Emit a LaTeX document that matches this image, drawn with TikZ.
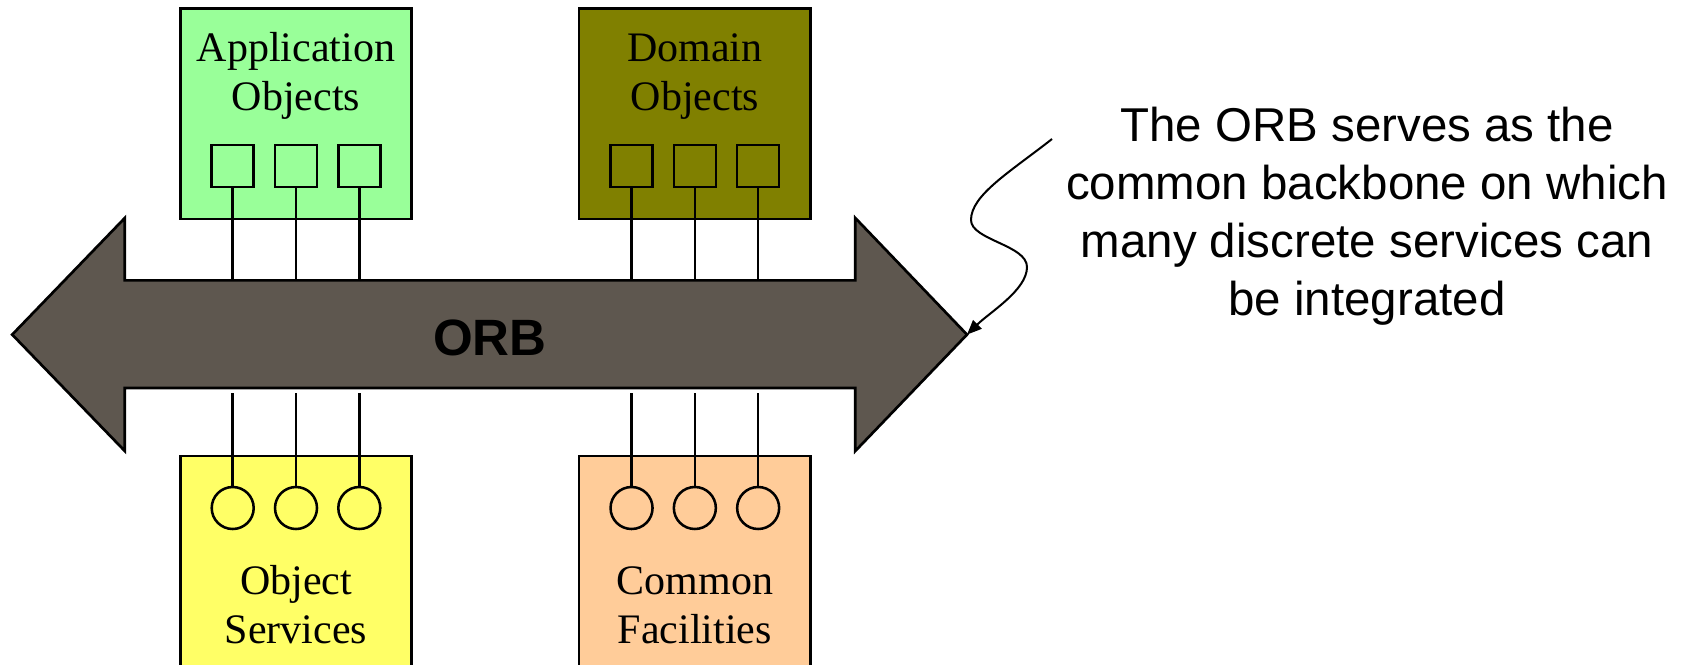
\documentclass[tikz,border=0pt]{standalone}
\usepackage{fontspec}
\setmainfont{Liberation Serif}
\newfontfamily\arialfont{Liberation Sans}
\usetikzlibrary{arrows.meta}
\definecolor{appgreen}{HTML}{99FF99}
\definecolor{domolive}{HTML}{808000}
\definecolor{svcyellow}{HTML}{FFFF66}
\definecolor{facpeach}{HTML}{FFCC99}
\definecolor{orbfill}{HTML}{5E574F}
\begin{document}
\begin{tikzpicture}[x=0.75pt,y=-0.75pt,
  box/.style={draw=black, line width=2pt, minimum width=173.6pt, inner sep=0pt},
  topbox/.style={box, minimum height=157.9pt},
  botbox/.style={box, minimum height=168pt},
  port/.style={draw=black, line width=1.9pt, minimum size=31.5pt, inner sep=0pt},
  sqport/.style={port, rectangle},
  ciport/.style={port, circle},
  wire/.style={line width=1.9pt},
  boxtext/.style={font=\fontsize{31.5pt}{36.4pt}\selectfont, align=center, inner sep=0pt, anchor=base},
]
\path[use as bounding box] (0,0) rectangle (1691,664);
\clip (0,0) rectangle (1691,664);

% boxes
\node[topbox, fill=appgreen] (app) at (296,113.75) {};
\node[topbox, fill=domolive] (dom) at (694.85,113.75) {};
\node[botbox, fill=svcyellow] (svc) at (296,568) {};
\node[botbox, fill=facpeach] (fac) at (694.85,568) {};

% box texts (anchor base = baseline of last line)
\node[boxtext] (apptext) at (296,110) {Application\\Objects};
\node[boxtext] (domtext) at (694.85,110) {Domain\\Objects};
\node[boxtext] (svctext) at (296,643) {Object\\Services};
\node[boxtext] (factext) at (694.85,643) {Common\\Facilities};

% ORB double arrow
\draw[line width=2pt, fill=orbfill]
  (12.2,334.6) coordinate (ltip) -- (124.8,218) -- (124.8,280.4)
  -- (855.3,280.4) -- (855.3,218) -- (967,334.6) coordinate (rtip)
  -- (855.3,451) -- (855.3,388) -- (124.8,388) -- (124.8,451) -- cycle;
\coordinate (shafttop) at (0,280.4);
\coordinate (shaftbot) at (0,393);
\node[font=\arialfont\bfseries\fontsize{38.3pt}{40pt}\selectfont, inner sep=0pt, anchor=base] (orb) at (490,355) {ORB};

% ports and wires
\foreach \i/\dx in {1/-63.3,2/0,3/63.3}{
  \node[sqport] (a\i) at (296+\dx,166) {};
  \node[sqport] (d\i) at (694.85+\dx,166) {};
  \node[ciport] (s\i) at (296+\dx,508) {};
  \node[ciport] (f\i) at (694.85+\dx,508) {};
  \draw[wire] (a\i.south) -- (a\i.south |- shafttop);
  \draw[wire] (d\i.south) -- (d\i.south |- shafttop);
  \draw[wire] (s\i.north) -- (s\i.north |- shaftbot);
  \draw[wire] (f\i.north) -- (f\i.north |- shaftbot);
}

% callout
\node[font=\arialfont\fontsize{35.6pt}{43.3pt}\selectfont, align=center, anchor=base, inner sep=0pt] (note) at (1367,315)
  {The ORB serves as the\\common backbone on which\\many discrete services can\\be integrated};
\coordinate (cstart) at (1052,139);
\draw[line width=1.5pt, -{Triangle[length=11pt,width=9pt]}]
  (cstart) .. controls (1010,172) and (971,195) .. (971,220)
  .. controls (971,240) and (1027,245) .. (1027,267)
  .. controls (1027,290) and (990,312) .. (rtip);
\end{tikzpicture}
\end{document}
